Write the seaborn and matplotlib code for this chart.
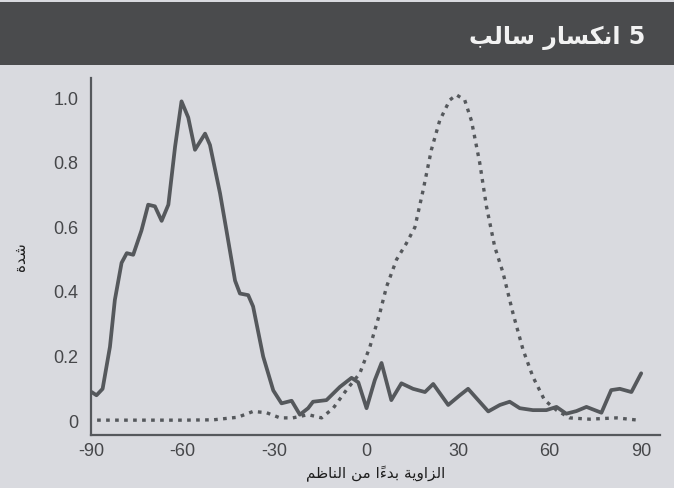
import matplotlib
matplotlib.use("Agg")
import matplotlib.pyplot as plt
from matplotlib.patches import Rectangle
from matplotlib.ticker import FuncFormatter
import numpy as np
import pandas as pd
import seaborn as sns

# ---- data -------------------------------------------------------------
angle_solid = [-89.8, -88.2, -86.2, -83.8, -82.2, -80.0, -78.3, -76.2, -73.5,
               -71.3, -69.1, -66.9, -64.7, -62.5, -60.4, -58.2, -56.0, -52.7,
               -51.1, -47.8, -45.7, -42.9, -41.3, -38.6, -37.0, -33.7, -30.4,
               -27.7, -24.4, -21.7, -19.0, -17.4, -13.0, -8.6, -4.8, -2.6,
               0.1, 2.8, 5.0, 8.2, 11.5, 15.3, 19.2, 21.9, 26.8, 30.6, 33.3,
               36.6, 39.9, 43.7, 46.9, 50.2, 54.5, 58.9, 62.2, 65.4, 68.7,
               72.0, 76.9, 80.1, 82.9, 86.7, 89.9]
intensity_solid = [0.09, 0.08, 0.10, 0.23, 0.375, 0.49, 0.52, 0.515, 0.59,
                   0.67, 0.665, 0.62, 0.67, 0.85, 0.99, 0.94, 0.84, 0.89,
                   0.855, 0.705, 0.59, 0.435, 0.395, 0.39, 0.355, 0.20, 0.095,
                   0.055, 0.063, 0.02, 0.04, 0.06, 0.065, 0.106, 0.134, 0.12,
                   0.04, 0.127, 0.18, 0.065, 0.117, 0.10, 0.09, 0.115, 0.05,
                   0.08, 0.10, 0.065, 0.03, 0.05, 0.06, 0.04, 0.034, 0.034,
                   0.044, 0.023, 0.031, 0.044, 0.026, 0.096, 0.10, 0.09, 0.148]

angle_dotted = [-88.0, -75.0, -60.0, -50.0, -42.0, -37.0, -32.6, -28.2, -24.0,
                -19.0, -14.6, -10.8, -6.5, -2.1, 1.2, 4.4, 6.6, 9.9, 13.1,
                15.9, 18.6, 21.3, 24.0, 27.3, 29.5, 32.2, 34.4, 37.1, 39.3,
                42.0, 44.7, 48.0, 51.3, 54.5, 58.3, 62.2, 66.5, 73.0, 81.8, 88.9]
intensity_dotted = [0.003, 0.003, 0.003, 0.004, 0.012, 0.03, 0.026, 0.01, 0.01,
                    0.02, 0.01, 0.04, 0.096, 0.148, 0.23, 0.333, 0.415, 0.50,
                    0.55, 0.60, 0.715, 0.84, 0.93, 0.994, 1.01, 0.994, 0.93,
                    0.80, 0.665, 0.54, 0.46, 0.333, 0.22, 0.137, 0.065, 0.034,
                    0.01, 0.006, 0.01, 0.003]

x_ticks = [-90, -60, -30, 0, 30, 60, 90]
y_ticks = [0, 0.2, 0.4, 0.6, 0.8, 1.0]

title_text = "5 انكسار سالب"
xlabel_text = "الزاوية بدءاً من الناظم"
ylabel_text = "شدة"

# ---- minimal Arabic contextual shaping (presentation forms, visual order) ----
DUAL = {
    "ب": "\uFE8F\uFE90\uFE91\uFE92", "س": "\uFEB1\uFEB2\uFEB3\uFEB4",
    "ش": "\uFEB5\uFEB6\uFEB7\uFEB8", "ظ": "\uFEC5\uFEC6\uFEC7\uFEC8",
    "ك": "\uFED9\uFEDA\uFEDB\uFEDC", "ل": "\uFEDD\uFEDE\uFEDF\uFEE0",
    "م": "\uFEE1\uFEE2\uFEE3\uFEE4", "ن": "\uFEE5\uFEE6\uFEE7\uFEE8",
    "ي": "\uFEF1\uFEF2\uFEF3\uFEF4",
}
RIGHT = {
    "ا": "\uFE8D\uFE8E", "د": "\uFEA9\uFEAA", "ر": "\uFEAD\uFEAE",
    "ز": "\uFEAF\uFEB0", "و": "\uFEED\uFEEE", "ة": "\uFE93\uFE94",
}
MARKS = {"\u064B"}


def _jt(c):
    if c in DUAL:
        return "D"
    if c in RIGHT:
        return "R"
    if c in MARKS:
        return "T"
    return "U"


def shape_rtl(text):
    chars = list(text)
    out = []
    for i, c in enumerate(chars):
        t = _jt(c)
        if t in "DR":
            j = i - 1
            while j >= 0 and _jt(chars[j]) == "T":
                j -= 1
            prev = _jt(chars[j]) if j >= 0 else "U"
            k = i + 1
            while k < len(chars) and _jt(chars[k]) == "T":
                k += 1
            nxt = _jt(chars[k]) if k < len(chars) else "U"
            jp = prev == "D"
            jn = t == "D" and nxt in "DR"
            if t == "D":
                f = DUAL[c]
                g = f[3] if (jp and jn) else f[1] if jp else f[2] if jn else f[0]
            else:
                f = RIGHT[c]
                g = f[1] if jp else f[0]
            out.append(g)
        else:
            out.append(c)
    clusters = []
    for g in out:
        if g in MARKS and clusters:
            clusters[-1] += g
        else:
            clusters.append(g)
    return "".join(reversed(clusters))


# ---- style ------------------------------------------------------------
bg = "#d9dadf"
ink = "#46474a"
line_col = "#55585c"

sns.set_theme(style="white")
plt.rcParams["font.family"] = ["Liberation Sans", "DejaVu Sans"]
plt.rcParams["axes.unicode_minus"] = False

fig = plt.figure(figsize=(6.74, 4.88), dpi=100, facecolor=bg)
ax = fig.add_axes([0.135, 0.1086, 0.844, 0.7314])
ax.set_facecolor(bg)

solid = pd.DataFrame({"angle": angle_solid, "intensity": intensity_solid})
dotted = pd.DataFrame({"angle": angle_dotted, "intensity": intensity_dotted})

sns.lineplot(data=solid, x="angle", y="intensity", ax=ax, color=line_col,
             linewidth=2.7, sort=False, solid_joinstyle="round")
sns.lineplot(data=dotted, x="angle", y="intensity", ax=ax, color=line_col,
             linewidth=2.4, sort=False)
ax.lines[-1].set_dashes((1.1, 1.6))

ax.set_xlim(-90, 96)
ax.set_ylim(-0.043, 1.062)
ax.set_xticks(x_ticks)
ax.set_yticks(y_ticks)
ax.yaxis.set_major_formatter(FuncFormatter(lambda v, p: "0" if v == 0 else f"{v:.1f}"))

for s in ["top", "right"]:
    ax.spines[s].set_visible(False)
for s in ["left", "bottom"]:
    ax.spines[s].set_color(line_col)
    ax.spines[s].set_linewidth(1.6)

ax.tick_params(axis="x", direction="in", length=6, width=1.4, color=line_col,
               labelsize=13, labelcolor=ink, pad=6)
ax.tick_params(axis="y", direction="in", length=11, width=1.4, color=line_col,
               labelsize=13, labelcolor=ink, pad=9)

ax.set_xlabel(shape_rtl(xlabel_text), fontsize=11, color="#1e1e1e",
              family="DejaVu Sans", labelpad=4)
ax.set_ylabel(shape_rtl(ylabel_text), fontsize=11, color="#1e1e1e",
              family="DejaVu Sans", labelpad=18)

# title band
fig.patches.append(Rectangle((0, 1 - 65 / 488), 1, 63 / 488, transform=fig.transFigure,
                             facecolor="#4a4b4d", edgecolor="none", zorder=0))
fig.text(645 / 674, 1 - 38 / 488, shape_rtl(title_text), ha="right", va="center",
         fontsize=17, fontweight="bold", color="#f2f2f2", family="DejaVu Sans")

fig.savefig("out.png", dpi=100, facecolor=bg)
